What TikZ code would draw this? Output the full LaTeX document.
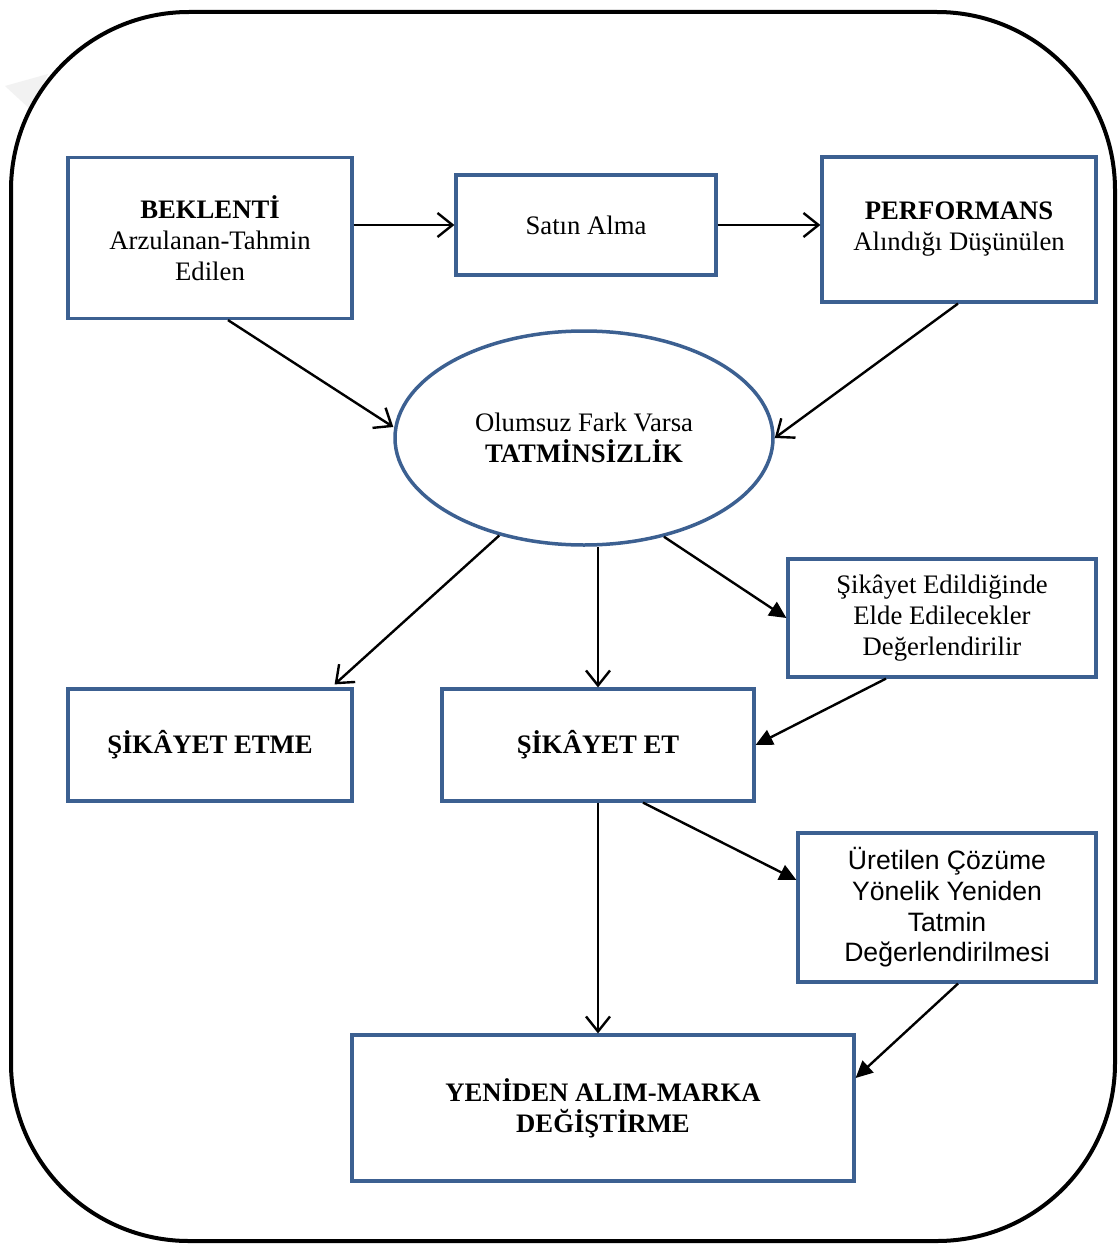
\documentclass[tikz,border=0pt]{standalone}
\usepackage{fontspec}
\setmainfont{Liberation Serif}
\newfontfamily\arialfont{Liberation Sans}
\usetikzlibrary{arrows.meta,shapes.geometric,calc}

\definecolor{boxblue}{RGB}{60,96,145}

\tikzset{
  box/.style={draw=boxblue, line width=3.2pt, rectangle, align=center,
    inner sep=0pt, font=\fontsize{26.7}{31}\selectfont},
  openarrow/.style={draw=black, line width=2.4pt,
    -{Straight Barb[length=15pt,width=24pt]}},
  filledarrow/.style={draw=black, line width=2.4pt,
    -{Triangle[length=17pt,width=16pt]}},
}

\begin{document}
\begin{tikzpicture}[x=1pt,y=-1pt]
\useasboundingbox (0,0) rectangle (1118,1244);
\fill[white] (0,0) rectangle (1118,1244);

% faint mark at the upper left
\fill[gray!10] (5,86) -- (48,74) -- (31,110) -- cycle;

% outer rounded frame
\draw[line width=4pt, rounded corners=178pt] (11,12) rectangle (1115,1241);

% boxes
\node[box, minimum width=284pt, minimum height=161pt] (bek) at (210,238)
  {\textbf{BEKLENTİ}\\Arzulanan-Tahmin\\Edilen};
\node[box, minimum width=260pt, minimum height=100pt] (satin) at (586,225)
  {Satın Alma};
\node[box, minimum width=274pt, minimum height=145pt] (perf) at (959,229.5)
  {\textbf{PERFORMANS}\\Alındığı Düşünülen};
\node[box, ellipse, line width=3.5pt, minimum width=378pt, minimum height=214pt] (ell) at (584,438)
  {Olumsuz Fark Varsa\\\textbf{TATMİNSİZLİK}};
\node[box, minimum width=308pt, minimum height=118pt] (sed) at (942,618)
  {Şikâyet Edildiğinde\\Elde Edilecekler\\Değerlendirilir};
\node[box, minimum width=284pt, minimum height=112pt] (setme) at (210,745)
  {\textbf{ŞİKÂYET ETME}};
\node[box, minimum width=312pt, minimum height=112pt] (set) at (598,745)
  {\textbf{ŞİKÂYET ET}};
\node[box, minimum width=298pt, minimum height=149pt,
  font=\arialfont\fontsize{26.6}{30.7}\selectfont] (uret) at (947,907.5)
  {Üretilen Çözüme\\Yönelik Yeniden\\Tatmin\\Değerlendirilmesi};
\node[box, minimum width=502pt, minimum height=146pt] (yen) at (603,1108)
  {\textbf{YENİDEN ALIM-MARKA}\\\textbf{DEĞİŞTİRME}};

% connectors
\draw[openarrow] (satin.west -| bek.east) -- (satin.west);
\draw[openarrow] (satin.east) -- (satin.east -| perf.west);
\draw[openarrow] ($(bek.south)+(18,0)$) -- ($(ell.west)+(0,-11)$);
\draw[openarrow] ($(perf.south)+(-1,0)$) -- (ell.east);
\draw[openarrow] (ell.229) -- ($(setme.north east)+(-19,-3)$);
\draw[openarrow] (set.north |- ell.south) -- (set.north);
\draw[filledarrow] (ell.309) -- (sed.west);
\draw[filledarrow] ($(sed.south)+(-56,0)$) -- (set.east);
\draw[filledarrow] ($(set.south)+(45,0)$) -- ($(uret.west)+(0,-27.5)$);
\draw[openarrow] (set.south) -- (set.south |- yen.north);
\draw[filledarrow] ($(uret.south)+(11,0)$) -- ($(yen.east)+(0,-30)$);
\end{tikzpicture}
\end{document}
